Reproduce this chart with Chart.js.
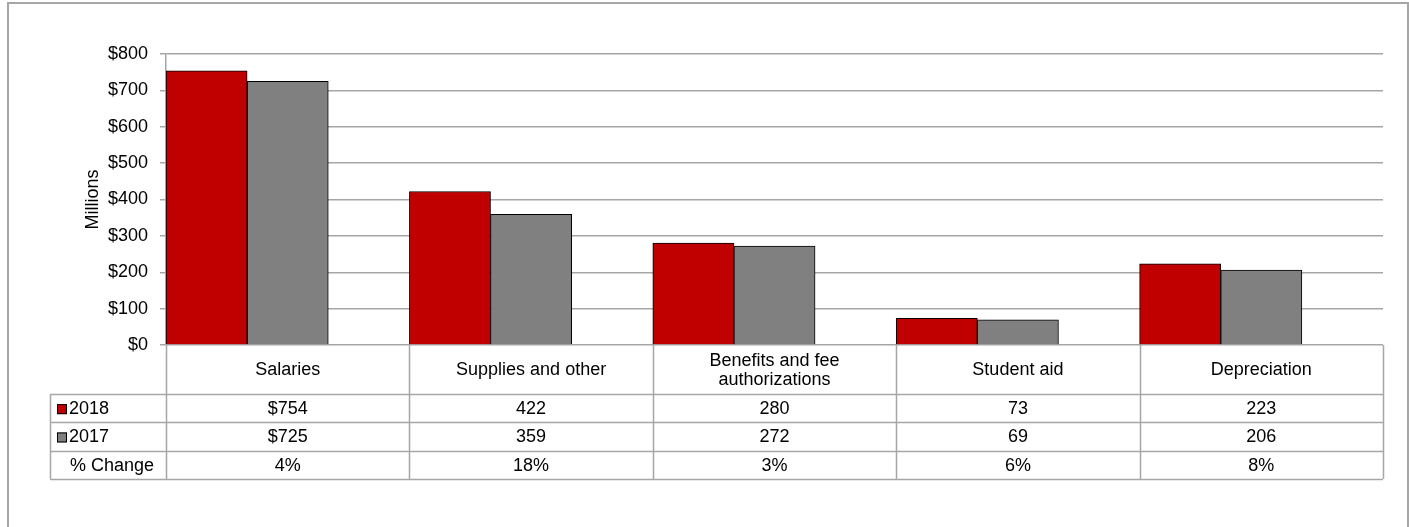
<!DOCTYPE html>
<html>
<head>
<meta charset="utf-8">
<script src="https://cdn.jsdelivr.net/npm/chart.js@4"></script>
<style>
  html, body { margin: 0; padding: 0; background: #fff; }
  #wrap { width: 1409px; height: 527px; position: relative; }
</style>
</head>
<body>
<div id="wrap"><canvas id="expenseChart"></canvas></div>
<script>
// Dados do gráfico
const categories = ["Salaries", "Supplies and other", "Benefits and fee authorizations", "Student aid", "Depreciation"];
const categoryLines = [["Salaries"], ["Supplies and other"], ["Benefits and fee", "authorizations"], ["Student aid"], ["Depreciation"]];
const values2018 = [754, 422, 280, 73, 223];
const values2017 = [725, 359, 272, 69, 206];
const pctChange = [0.04, 0.18, 0.03, 0.06, 0.08];
const seriesNames = ["2018", "2017", "% Change"];
const seriesColors = ["#C00000", "#808080", "rgba(0,0,0,0)"];
const yMin = 0;
const yMax = 800;
const yStep = 100;

const FONT = "'Liberation Sans', Arial, sans-serif";
const FONT_SIZE = 18;
const GRID = "#a6a6a6";

// formata os valores da tabela como no original
function fmtMoney(v, i) {
  return i === 0 ? "$" + v : String(v);
}
function fmtPct(v) {
  return Math.round(v * 100) + "%";
}

// Plugin para desenhar a tabela de dados e a moldura
const dataTablePlugin = {
  id: "dataTable",
  afterDraw(chart) {
    const ctx = chart.ctx;
    const area = chart.chartArea;
    const n = categories.length;
    const colW = (area.right - area.left) / n;
    const legendLeft = 50;
    const headerTop = area.bottom;
    const headerH = 49;
    const rowH = 28.3;
    const rowsTop = headerTop + headerH;
    const tableBottom = rowsTop + rowH * 3;

    ctx.save();
    ctx.strokeStyle = GRID;
    ctx.lineWidth = 1.5;

    // linhas verticais das colunas
    for (let i = 0; i <= n; i++) {
      const x = Math.round(area.left + colW * i) + 0.5;
      ctx.beginPath();
      ctx.moveTo(x, headerTop);
      ctx.lineTo(x, tableBottom);
      ctx.stroke();
    }
    // linha esquerda da coluna de legenda
    ctx.beginPath();
    ctx.moveTo(legendLeft + 0.5, rowsTop);
    ctx.lineTo(legendLeft + 0.5, tableBottom);
    ctx.stroke();
    // linhas horizontais
    for (let r = 0; r <= 3; r++) {
      const y = Math.round(rowsTop + rowH * r) + 0.5;
      ctx.beginPath();
      ctx.moveTo(legendLeft, y);
      ctx.lineTo(area.right, y);
      ctx.stroke();
    }

    ctx.fillStyle = "#000";
    ctx.font = FONT_SIZE + "px " + FONT;
    ctx.textAlign = "center";
    ctx.textBaseline = "middle";

    // rótulos das categorias
    categoryLines.forEach((lines, i) => {
      const cx = area.left + colW * (i + 0.5);
      const cy = headerTop + headerH / 2 + 1;
      const lh = 19;
      lines.forEach((line, k) => {
        ctx.fillText(line, cx, cy + (k - (lines.length - 1) / 2) * lh);
      });
    });

    // linhas de valores
    const rows = [
      values2018.map(fmtMoney),
      values2017.map(fmtMoney),
      pctChange.map(fmtPct),
    ];
    rows.forEach((row, r) => {
      const cy = rowsTop + rowH * (r + 0.5) + 1;
      row.forEach((txt, i) => {
        ctx.fillText(txt, area.left + colW * (i + 0.5), cy);
      });
    });

    // legenda
    ctx.textAlign = "left";
    seriesNames.forEach((name, r) => {
      const cy = rowsTop + rowH * (r + 0.5) + 1;
      if (r < 2) {
        ctx.fillStyle = seriesColors[r];
        ctx.fillRect(57, cy - 5, 10, 10);
        ctx.strokeStyle = "#000";
        ctx.lineWidth = 1;
        ctx.strokeRect(57.5, cy - 4.5, 9, 9);
      }
      ctx.fillStyle = "#000";
      ctx.fillText(name, r < 2 ? 69 : 70, cy);
    });

    // moldura externa
    ctx.strokeStyle = GRID;
    ctx.lineWidth = 2;
    ctx.strokeRect(8, 3, 1400, 600);
    ctx.restore();
  },
};

const ctx = document.getElementById("expenseChart");
new Chart(ctx, {
  type: "bar",
  data: {
    labels: categories,
    datasets: [
      {
        label: seriesNames[0],
        data: values2018,
        backgroundColor: seriesColors[0],
        borderColor: "#000",
        borderWidth: 1,
      },
      {
        label: seriesNames[1],
        data: values2017,
        backgroundColor: seriesColors[1],
        borderColor: "#000",
        borderWidth: 1,
      },
      {
        label: seriesNames[2],
        data: pctChange,
        backgroundColor: seriesColors[2],
        borderWidth: 0,
      },
    ],
  },
  options: {
    responsive: true,
    maintainAspectRatio: false,
    animation: false,
    layout: {
      padding: { top: 54, right: 26, bottom: 182, left: 78 },
    },
    datasets: {
      bar: { categoryPercentage: 1.0, barPercentage: 1.0 },
    },
    scales: {
      x: {
        display: false,
      },
      y: {
        min: yMin,
        max: yMax,
        afterFit(axis) {
          axis.width = 88;
        },
        ticks: {
          stepSize: yStep,
          padding: 12,
          color: "#000",
          font: { family: FONT, size: FONT_SIZE },
          callback: (v) => "$" + v,
        },
        grid: {
          color: GRID,
          tickColor: GRID,
          tickLength: 6,
          lineWidth: 1.5,
        },
        border: { color: GRID, width: 1.5 },
        title: {
          display: true,
          text: "Millions",
          color: "#000",
          font: { family: FONT, size: FONT_SIZE },
          padding: { top: 4, bottom: 0 },
        },
      },
    },
    plugins: {
      legend: { display: false },
      tooltip: { enabled: false },
    },
  },
  plugins: [dataTablePlugin],
});
</script>
</body>
</html>
